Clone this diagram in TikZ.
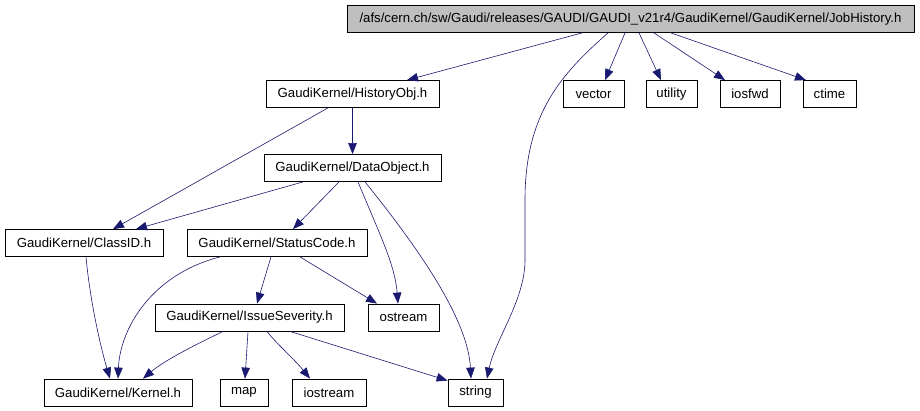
\documentclass[tikz,border=0pt]{standalone}
\usepackage{fontspec}
\setmainfont{Liberation Sans}
\usetikzlibrary{arrows.meta}
\definecolor{edgeblue}{HTML}{191970}
\definecolor{rootgray}{HTML}{BFBFBF}
\tikzset{
  hdrnode/.style={
    rectangle, draw=black, line width=0.8pt, fill=white,
    minimum width=#1, minimum height=27pt, inner sep=0pt,
    text centered, font=\fontsize{13.2}{15}\selectfont
  },
  rootnode/.style={hdrnode=#1, fill=rootgray},
  incarrow/.style={-{Triangle[length=11pt,width=8.5pt]}, line width=0.6pt, color=edgeblue},
}
\begin{document}
\begin{tikzpicture}[x=1pt,y=-1pt]
    \fill[white] (0,0) rectangle (920,410);
    \node[rootnode=567pt] (job) at(630.5,19)
         {/afs/cern.ch/sw/Gaudi/releases/GAUDI/GAUDI\_v21r4/GaudiKernel/GaudiKernel/JobHistory.h};
    \node[hdrnode=173pt] (hist)   at(352.5,94)  {GaudiKernel/HistoryObj.h};
    \node[hdrnode=61pt]  (vector) at(593.5,94)  {vector};
    \node[hdrnode=51pt]  (util)   at(671.5,94)  {utility};
    \node[hdrnode=60pt]  (iosfwd) at(750,94)    {iosfwd};
    \node[hdrnode=53pt]  (ctime)  at(829.5,94)  {ctime};
    \node[hdrnode=177pt] (dobj)   at(352.5,168) {GaudiKernel/DataObject.h};
    \node[hdrnode=158pt] (clid)   at(84,243)    {GaudiKernel/ClassID.h};
    \node[hdrnode=180pt] (scode)  at(277,243)   {GaudiKernel/StatusCode.h};
    \node[hdrnode=189pt] (isev)   at(249.5,317.5) {GaudiKernel/IssueSeverity.h};
    \node[hdrnode=71pt]  (ostr)   at(403.5,317.5) {ostream};
    \node[hdrnode=148pt] (kern)   at(118,392.5) {GaudiKernel/Kernel.h};
    \node[hdrnode=48pt]  (map)    at(244,392.5) {map};
    \node[hdrnode=74pt]  (iostr)  at(329,392.5) {iostream};
    \node[hdrnode=55pt]  (str)    at(475.5,392.5) {string};
    % JobHistory.h includes
    \draw[incarrow]([xshift=-48.5pt]job.south)--([xshift=54.5pt]hist.north);
    \draw[incarrow]([xshift=-22.5pt]job.south)..controls(560,75)and(525,115)..(525,200)
         --(525,260)..controls(525,300)and(495,340)..([xshift=11.5pt]str.north);
    \draw[incarrow]([xshift=-5.5pt]job.south)--([xshift=11.5pt]vector.north);
    \draw[incarrow]([xshift=8.5pt]job.south)--([xshift=-10.5pt]util.north);
    \draw[incarrow]([xshift=23.5pt]job.south)--([xshift=-25pt]iosfwd.north);
    \draw[incarrow]([xshift=40.5pt]job.south)--([xshift=-23.5pt]ctime.north);
    % HistoryObj.h / DataObject.h
    \draw[incarrow](hist.south)--(dobj.north);
    \draw[incarrow]([xshift=-24.5pt]hist.south)--([xshift=29pt]clid.north);
    \draw[incarrow]([xshift=-49.5pt]dobj.south)--([xshift=52pt]clid.north);
    \draw[incarrow]([xshift=-13.5pt]dobj.south)--([xshift=16pt]scode.north);
    \draw[incarrow]([xshift=5.5pt]dobj.south)..controls(380,235)and(395,265)..([xshift=-5.5pt]ostr.north);
    \draw[incarrow]([xshift=12.5pt]dobj.south)..controls(420,250)and(468,320)..([xshift=-4.5pt]str.north);
    % ClassID.h / StatusCode.h
    \draw[incarrow]([xshift=2pt]clid.south)..controls(90,300)and(100,345)..([xshift=-8pt]kern.north);
    \draw[incarrow]([xshift=-57pt]scode.south)..controls(150,275)and(120,330)..(kern.north);
    \draw[incarrow]([xshift=-6pt]scode.south)--([xshift=7.5pt]isev.north);
    \draw[incarrow]([xshift=23pt]scode.south)--([xshift=-26.5pt]ostr.north);
    % IssueSeverity.h
    \draw[incarrow]([xshift=-26.5pt]isev.south)..controls(195,345)and(165,360)..([xshift=25pt]kern.north);
    \draw[incarrow]([xshift=-1.5pt]isev.south)--([xshift=1pt]map.north);
    \draw[incarrow]([xshift=17.5pt]isev.south)..controls(275,342)and(295,360)..([xshift=-19pt]iostr.north);
    \draw[incarrow]([xshift=40.5pt]isev.south)--([yshift=-2pt]str.north west);
\end{tikzpicture}
\end{document}
